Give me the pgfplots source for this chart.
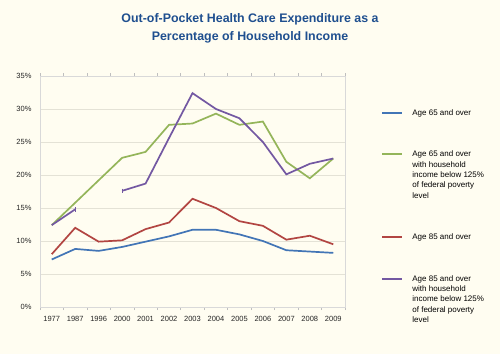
\documentclass[border=0pt]{standalone}
\usepackage{fontspec}
\setmainfont{Liberation Sans}
\usepackage{pgfplots}
\pgfplotsset{compat=1.18}
\definecolor{bgc}{HTML}{FFFDF1}
\definecolor{c1}{HTML}{4275B6}
\definecolor{c2}{HTML}{94B55A}
\definecolor{c3}{HTML}{B24542}
\definecolor{c4}{HTML}{7358A2}
\definecolor{ttl}{HTML}{1F4F8F}
\definecolor{gridc}{HTML}{E4E2D6}
\newcommand{\legline}[1]{\addlegendimage{empty legend}\addlegendentry{#1}}
\begin{document}
\begin{tikzpicture}
\fill[bgc] (0,0) rectangle (500bp,354bp);
\node[font=\fontsize{12.4bp}{18bp}\selectfont\bfseries, text=ttl, align=center] at (250bp,326bp)
  {Out-of-Pocket Health Care Expenditure as a\\Percentage of Household Income};
\begin{axis}[
  at={(40bp,47bp)}, anchor=south west,
  scale only axis, width=305bp, height=231bp,
  xmin=-0.5, xmax=12.5, ymin=0, ymax=35,
  xtick={0,...,12},
  xticklabels={1977,1987,1996,2000,2001,2002,2003,2004,2005,2006,2007,2008,2009},
  minor xtick={-0.5,0.5,...,12.5},
  ytick={0,5,...,35},
  yticklabel={\pgfmathprintnumber{\tick}\%},
  /pgf/number format/assume math mode=true,
  major tick length=0pt,
  minor tick length=3bp,
  tick align=outside,
  minor tick style={color=black!25, line width=0.6bp},
  axis line style={color=black!15, line width=0.8bp},
  ymajorgrids, major grid style={color=gridc, line width=0.8bp},
  tick label style={font=\fontsize{7.5bp}{9bp}\selectfont, text=black!85},
  xticklabel style={yshift=-6bp},
  yticklabel style={xshift=-5bp},
  unbounded coords=jump,
  legend style={at={(1.118,0.857)}, anchor=north west, draw=none, fill=none,
    inner sep=0pt, row sep=2.375bp, column sep=9bp,
    font=\fontsize{8bp}{10bp}\selectfont,
    nodes={inner sep=0pt, anchor=base west, text height=6bp, text depth=2bp}},
  legend cell align=left,
  legend image code/.code={\draw[#1, line width=2.2bp] (0bp,2.6bp) -- (20bp,2.6bp);},
  every axis plot/.append style={line width=1.7bp},
]
\addplot[c1] coordinates {(0,7.2) (1,8.8) (2,8.5) (3,9.1) (4,9.9) (5,10.7) (6,11.7) (7,11.7) (8,11.0) (9,10.0) (10,8.6) (11,8.4) (12,8.2)};
\addlegendentry{Age 65 and over}
\legline{}\legline{}\legline{}
\addplot[c2] coordinates {(0,12.4) (1,15.8) (2,19.2) (3,22.6) (4,23.5) (5,27.6) (6,27.8) (7,29.3) (8,27.6) (9,28.1) (10,22.0) (11,19.5) (12,22.5)};
\addlegendentry{Age 65 and over}
\legline{with household}\legline{income below 125\%}\legline{of federal poverty}\legline{level}
\legline{}\legline{}\legline{}
\addplot[c3] coordinates {(0,8.0) (1,12.0) (2,9.9) (3,10.1) (4,11.8) (5,12.8) (6,16.4) (7,15.0) (8,13.0) (9,12.3) (10,10.2) (11,10.8) (12,9.5)};
\addlegendentry{Age 85 and over}
\legline{}\legline{}\legline{}
\addplot[c4] coordinates {(0,12.4) (1,14.8) (2,nan) (3,17.6) (4,18.7) (5,25.6) (6,32.4) (7,30.0) (8,28.6) (9,25.0) (10,20.1) (11,21.7) (12,22.5)};
\addlegendentry{Age 85 and over}
\legline{with household}\legline{income below 125\%}\legline{of federal poverty}\legline{level}
\addplot[c4, only marks, mark=|, mark size=2.2bp, mark options={line width=1.2bp}, forget plot] coordinates {(1,14.8) (3,17.6)};
\end{axis}
\end{tikzpicture}
\end{document}
